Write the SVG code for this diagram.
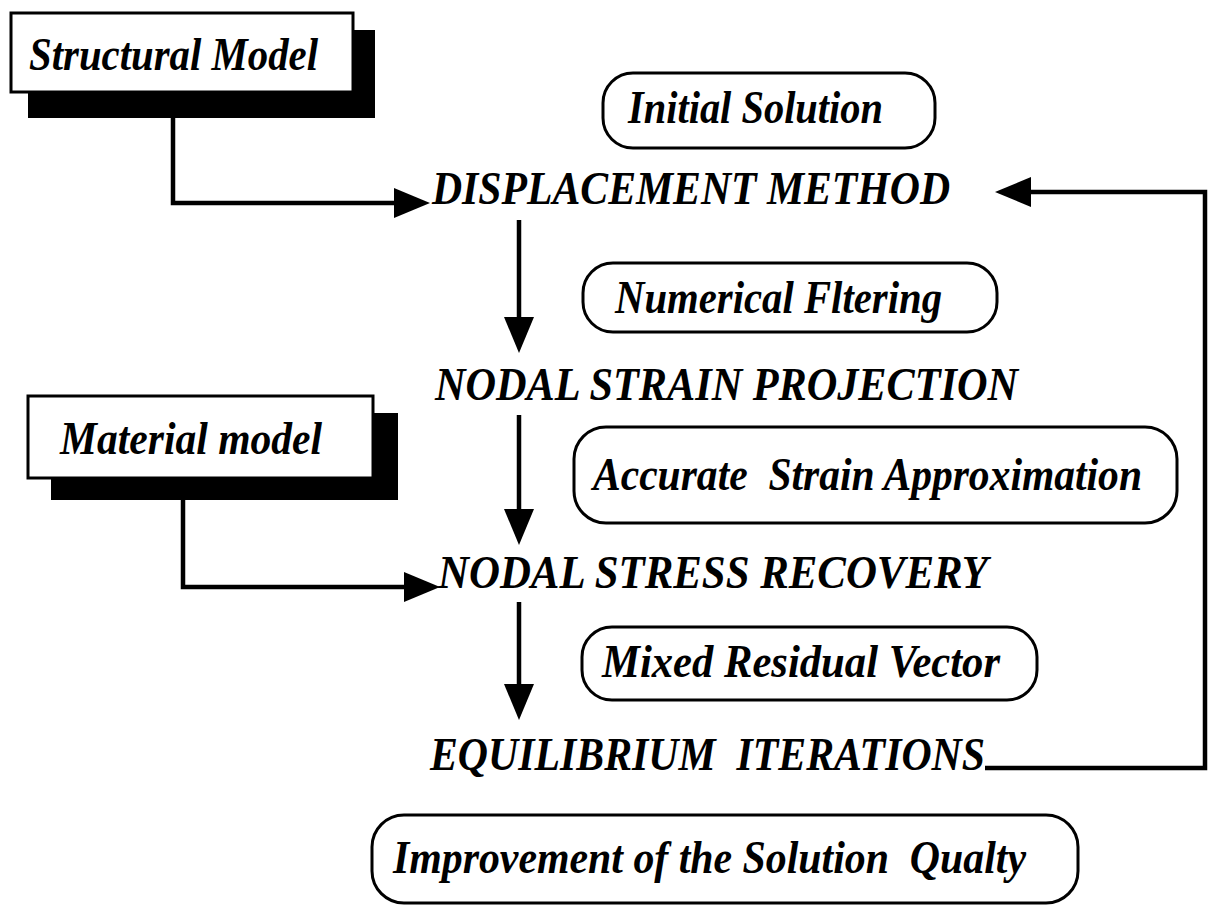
<svg xmlns="http://www.w3.org/2000/svg" width="1211" height="906" viewBox="0 0 1211 906">
<style>
  text { font-family: "Liberation Serif", "Times New Roman", serif; font-style: italic; font-weight: bold; font-size: 46px; fill: #000; white-space: pre; }
  .shadow { fill: #000; }
  .box { fill: #fff; stroke: #000; stroke-width: 3; }
  .rbox { fill: #fff; stroke: #000; stroke-width: 3; }
  .conn { fill: none; stroke: #000; stroke-width: 4.5; stroke-linejoin: miter; }
</style>
<defs>
  <marker id="arrow" markerUnits="userSpaceOnUse" markerWidth="36" markerHeight="30" refX="28" refY="15" orient="auto">
    <path d="M0,0 L36,15 L0,30 z" fill="#000"/>
  </marker>
</defs>
<rect width="1211" height="906" fill="#fff"/>

<g id="structural-model">
  <rect class="shadow" x="28" y="30" width="347" height="88"/>
  <rect class="box" x="11" y="13" width="342" height="79"/>
  <text x="29" y="70" font-size="43" textLength="289" lengthAdjust="spacingAndGlyphs">Structural Model</text>
</g>

<g id="material-model">
  <rect class="shadow" x="51" y="413" width="347" height="87"/>
  <rect class="box" x="28" y="396" width="345" height="82"/>
  <text x="60" y="454" font-size="43" textLength="262" lengthAdjust="spacingAndGlyphs">Material model</text>
</g>

<g id="initial-solution">
  <rect class="rbox" x="603" y="73" width="332" height="75" rx="30" ry="30"/>
  <text x="628" y="123" textLength="255" lengthAdjust="spacingAndGlyphs">Initial Solution</text>
</g>

<g id="displacement-method">
  <text x="432" y="204" textLength="518" lengthAdjust="spacingAndGlyphs">DISPLACEMENT METHOD</text>
</g>

<g id="numerical-filtering">
  <rect class="rbox" x="583" y="263" width="414" height="69" rx="30" ry="30"/>
  <text x="615" y="313" textLength="327" lengthAdjust="spacingAndGlyphs">Numerical Fltering</text>
</g>

<g id="nodal-strain-projection">
  <text x="435" y="400" textLength="583" lengthAdjust="spacingAndGlyphs">NODAL STRAIN PROJECTION</text>
</g>

<g id="accurate-strain">
  <rect class="rbox" x="574" y="427" width="603" height="96" rx="32" ry="32"/>
  <text x="593" y="490" textLength="549" lengthAdjust="spacingAndGlyphs">Accurate  Strain Approximation</text>
</g>

<g id="nodal-stress-recovery">
  <text x="438" y="588" textLength="550" lengthAdjust="spacingAndGlyphs">NODAL STRESS RECOVERY</text>
</g>

<g id="mixed-residual">
  <rect class="rbox" x="582" y="627" width="455" height="73" rx="30" ry="30"/>
  <text x="602" y="677" textLength="398" lengthAdjust="spacingAndGlyphs">Mixed Residual Vector</text>
</g>

<g id="equilibrium-iterations">
  <text x="430" y="770" textLength="555" lengthAdjust="spacingAndGlyphs">EQUILIBRIUM  ITERATIONS</text>
</g>

<g id="improvement">
  <rect class="rbox" x="372" y="815" width="706" height="88" rx="32" ry="32"/>
  <text x="393" y="873" textLength="633" lengthAdjust="spacingAndGlyphs">Improvement of the Solution  Qualty</text>
</g>

<g id="connectors">
  <path class="conn" d="M173,118 V203 H422" marker-end="url(#arrow)"/>
  <path class="conn" d="M183,500 V587 H432" marker-end="url(#arrow)"/>
  <path class="conn" d="M519,220 V345" marker-end="url(#arrow)"/>
  <path class="conn" d="M519,415 V537" marker-end="url(#arrow)"/>
  <path class="conn" d="M519,602 V712" marker-end="url(#arrow)"/>
  <path class="conn" d="M985,768 H1205 V192 H1003" marker-end="url(#arrow)"/>
</g>
</svg>
